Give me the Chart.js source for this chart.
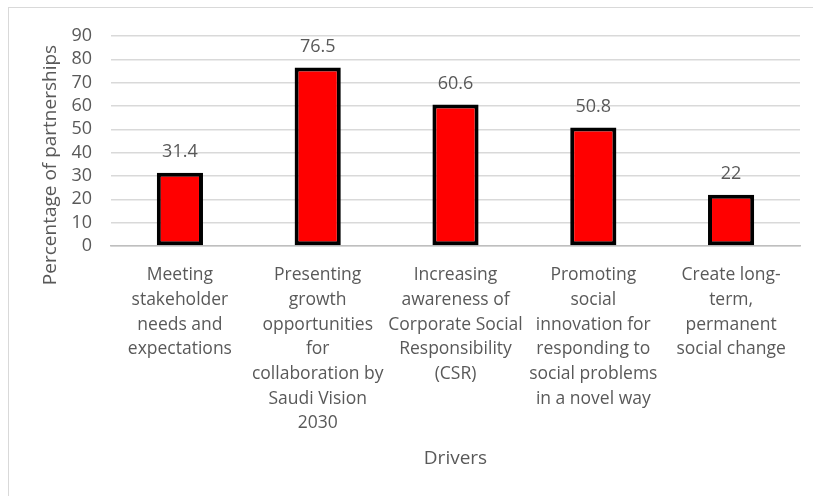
<!DOCTYPE html>
<html>
<head>
<meta charset="utf-8">
<script src="https://cdn.jsdelivr.net/npm/chart.js@4.4.1/dist/chart.umd.min.js"></script>
<style>
  html, body { margin: 0; padding: 0; background: #fff; }
  #frame {
    position: absolute; left: 8px; top: 7px;
    width: 805px; height: 489px;
    border-top: 1px solid #d9d9d9; border-left: 1px solid #d9d9d9;
  }
  #chart { display: block; }
</style>
</head>
<body>
<div id="frame"><canvas id="chart" width="804" height="488"></canvas></div>
<script>
const drivers = [
    ['Meeting', 'stakeholder', 'needs and', 'expectations'],
    ['Presenting', 'growth', 'opportunities', 'for', 'collaboration by', 'Saudi Vision', '2030'],
    ['Increasing', 'awareness of', 'Corporate Social', 'Responsibility', '(CSR)'],
    ['Promoting', 'social', 'innovation for', 'responding to', 'social problems', 'in a novel way'],
    ['Create long-', 'term,', 'permanent', 'social change']
];
const percentages = [31.4, 76.5, 60.6, 50.8, 22];
const yTicks = [0, 10, 20, 30, 40, 50, 60, 70, 80, 90];
const yTitle = 'Percentage of partnerships';

const textColor = '#595959';
const fontFamily = '"Open Sans", sans-serif';

// value labels above each bar + the y axis title (sits lower than the plot centre)
const extraText = {
    id: 'extraText',
    afterDatasetsDraw(chart) {
        const ctx = chart.ctx;
        const meta = chart.getDatasetMeta(0);
        const area = chart.chartArea;
        ctx.save();
        ctx.fillStyle = textColor;
        ctx.font = '18px ' + fontFamily;
        ctx.textAlign = 'center';
        ctx.textBaseline = 'middle';
        meta.data.forEach((bar, i) => {
            ctx.fillText(String(chart.data.datasets[0].data[i]), bar.x, bar.y - 21);
        });

        ctx.font = '19px ' + fontFamily;
        ctx.translate(area.left - 60, (area.top + area.bottom) / 2 + 24);
        ctx.rotate(-Math.PI / 2);
        ctx.fillText(yTitle, 0, 0);
        ctx.restore();
    }
};

const ctx = document.getElementById('chart').getContext('2d');
const chart = new Chart(ctx, {
    type: 'bar',
    data: {
        labels: drivers,
        datasets: [{
            data: percentages,
            backgroundColor: '#ff0000',
            borderColor: '#000000',
            borderWidth: 4,
            borderSkipped: false,
            barPercentage: 0.335,
            categoryPercentage: 1
        }]
    },
    options: {
        responsive: false,
        animation: false,
        layout: { padding: { top: 23, right: 13, left: 0, bottom: 0 } },
        plugins: {
            legend: { display: false },
            tooltip: { enabled: false }
        },
        scales: {
            x: {
                grid: { display: false, drawTicks: false },
                border: { display: true, color: '#bfbfbf', width: 1.5 },
                ticks: {
                    color: textColor,
                    font: { family: fontFamily, size: 17.5, lineHeight: 1.41 },
                    padding: 17,
                    maxRotation: 0,
                    autoSkip: false
                },
                title: {
                    display: true,
                    text: 'Drivers',
                    color: textColor,
                    font: { family: fontFamily, size: 19 },
                    padding: { top: 0, bottom: 26 }
                },
                afterFit(scale) { scale.height = 250; }
            },
            y: {
                min: 0,
                max: 90,
                afterBuildTicks(scale) { scale.ticks = yTicks.map(v => ({ value: v })); },
                grid: { color: '#d9d9d9', lineWidth: 1.5, drawTicks: false },
                border: { display: false },
                ticks: {
                    color: textColor,
                    font: { family: fontFamily, size: 18, lineHeight: 1 },
                    padding: 19,
                    autoSkip: false
                },
                afterFit(scale) { scale.width = 102; }
            }
        }
    },
    plugins: [extraText]
});
</script>
</body>
</html>
